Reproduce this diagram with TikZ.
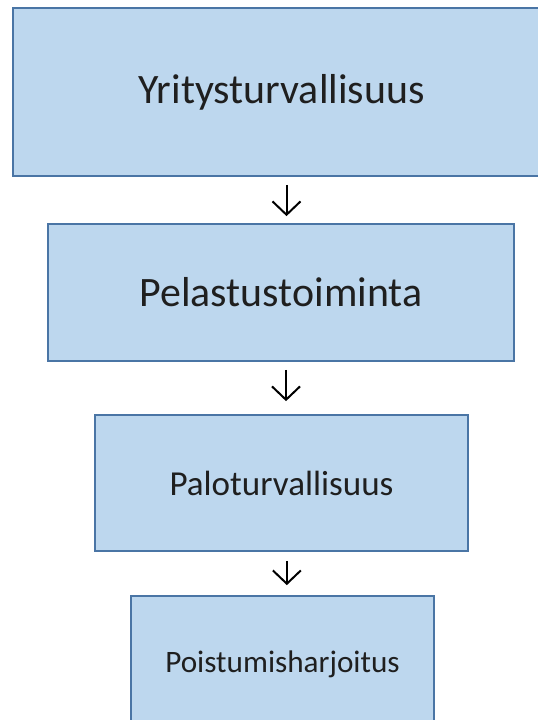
\documentclass[tikz,border=0pt]{standalone}
\usepackage{fontspec}
\setmainfont{Carlito}
\usetikzlibrary{arrows.meta}

\definecolor{boxfill}{RGB}{189,215,238}
\definecolor{boxline}{RGB}{74,117,165}

\begin{document}
\begin{tikzpicture}[x=0.75pt,y=-0.75pt,
  laatikko/.style={draw=boxline, fill=boxfill, line width=1.3pt,
    text=black!88, inner sep=0pt},
  nuoli/.style={line width=1.5pt, -{Straight Barb[length=10pt,width=21pt,line width=1.5pt]}}]
\useasboundingbox (0,0) rectangle (538,720);
\clip (0,0) rectangle (538,720);

% laatikot ylhaalta alas
\node[laatikko, minimum width=402.75pt, minimum height=126pt,
  font=\fontsize{31.4}{36}\selectfont] (yritys) at (281.5,92) {Yritysturvallisuus};
\node[laatikko, minimum width=349.5pt, minimum height=102.75pt,
  font=\fontsize{31.4}{36}\selectfont] (pelastus) at (281,292.5) {Pelastustoiminta};
\node[laatikko, minimum width=279.75pt, minimum height=102pt,
  font=\fontsize{26.3}{30}\selectfont] (palo) at (281.5,483) {Paloturvallisuus};
\node[laatikko, minimum width=227.25pt, minimum height=102pt,
  font=\fontsize{23.4}{28}\selectfont] (poistuminen) at (282.5,664) {Poistumisharjoitus};

% nuolet
\draw[nuoli, shorten <=6pt, shorten >=5.25pt]
  ([xshift=3.75pt]yritys.south) -- ([xshift=3.75pt]yritys.south |- pelastus.north);
\draw[nuoli, shorten <=6pt, shorten >=9.75pt]
  ([xshift=3.75pt]pelastus.south) -- ([xshift=3.75pt]pelastus.south |- palo.north);
\draw[nuoli, shorten <=6.75pt, shorten >=7.5pt]
  ([xshift=4pt]palo.south) -- ([xshift=4pt]palo.south |- poistuminen.north);
\end{tikzpicture}
\end{document}
